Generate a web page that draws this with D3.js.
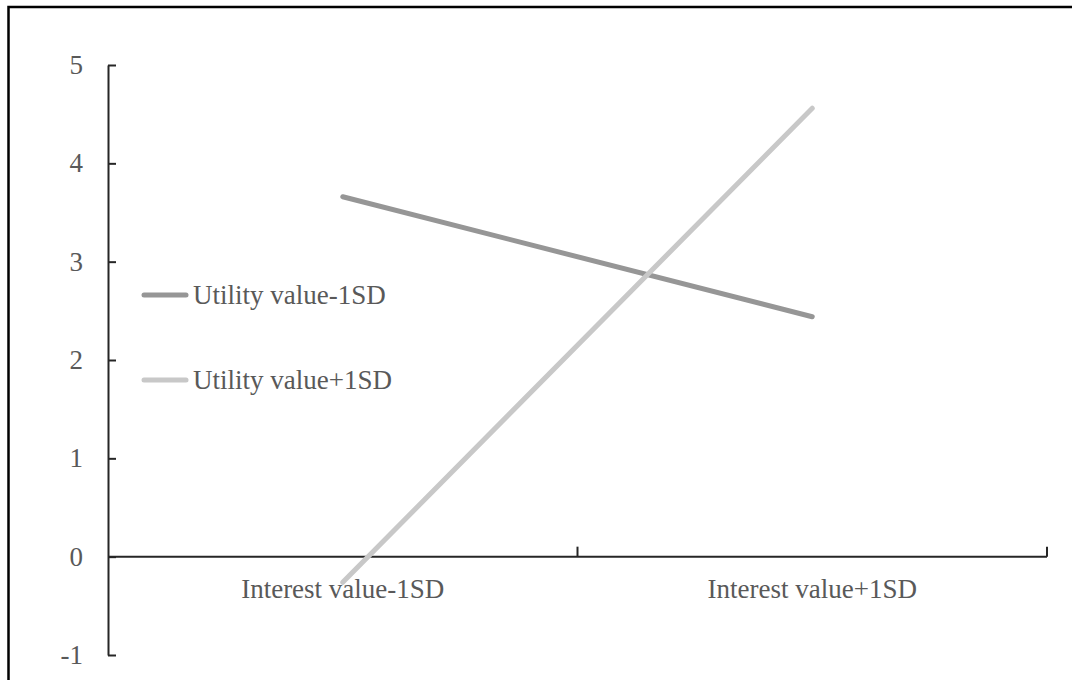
<!DOCTYPE html>
<html>
<head>
<meta charset="utf-8">
<script src="https://cdn.jsdelivr.net/npm/d3@7"></script>
<style>
  html, body { margin: 0; padding: 0; background: #fff; }
  svg { display: block; }
  text { font-family: "Liberation Serif", "Times New Roman", serif; fill: #595959; }
</style>
</head>
<body>
<figure id="chart" style="margin:0"></figure>
<script>
const categories = ["Interest value-1SD", "Interest value+1SD"];
const seriesNames = ["Utility value-1SD", "Utility value+1SD"];
const lowUtility = [3.66, 2.44];
const highUtility = [-0.26, 4.56];
const yTicks = [-1, 0, 1, 2, 3, 4, 5];
const seriesColors = ["#969696", "#c8c8c8"];

const width = 1072, height = 680;

const svg = d3.select("figure#chart")
  .append("svg")
  .attr("width", width)
  .attr("height", height);

// outer frame (right and bottom edges fall outside the picture)
svg.append("rect")
  .attr("x", 8.5).attr("y", 7)
  .attr("width", 1200).attr("height", 800)
  .attr("fill", "none")
  .attr("stroke", "#000")
  .attr("stroke-width", 2.5);

const x = d3.scaleBand().domain(categories).range([108, 1047]).padding(0);
const y = d3.scaleLinear().domain([-1, 5]).range([655, 65]);

// y axis, ticks pointing inward
const yAxis = svg.append("g")
  .attr("transform", "translate(" + x.range()[0] + ",0)")
  .call(d3.axisRight(y).tickValues(yTicks).tickSize(8).tickSizeOuter(0).tickFormat(d => String(d)));
yAxis.select(".domain").attr("stroke", "#262626").attr("stroke-width", 2);
yAxis.selectAll(".tick line").attr("stroke", "#262626").attr("stroke-width", 2);
yAxis.selectAll(".tick text")
  .attr("x", -25)
  .attr("text-anchor", "end")
  .attr("dy", "0.32em")
  .style("font-size", "27px")
  .style("font-family", "'Liberation Serif', serif")
  .attr("fill", "#595959");

// x axis at zero, ticks on band boundaries pointing up
const xAxis = svg.append("g")
  .attr("transform", "translate(0," + y(0) + ")");
xAxis.append("line")
  .attr("x1", x.range()[0]).attr("x2", x.range()[1])
  .attr("stroke", "#262626").attr("stroke-width", 2);
const bounds = categories.map(c => x(c)).concat([x.range()[1]]);
xAxis.selectAll("line.tick")
  .data(bounds.slice(1))
  .enter()
  .append("line")
  .attr("class", "tick")
  .attr("x1", d => d).attr("x2", d => d)
  .attr("y1", 0).attr("y2", -10)
  .attr("stroke", "#262626").attr("stroke-width", 2);
xAxis.selectAll("text")
  .data(categories)
  .enter()
  .append("text")
  .attr("x", d => x(d) + x.bandwidth() / 2)
  .attr("y", 41)
  .attr("text-anchor", "middle")
  .style("font-size", "27px")
  .text(d => d);

// lines
const line = d3.line()
  .x((d, i) => x(categories[i]) + x.bandwidth() / 2)
  .y(d => y(d));

[lowUtility, highUtility].forEach((vals, i) => {
  svg.append("path")
    .datum(vals)
    .attr("d", line)
    .attr("fill", "none")
    .attr("stroke", seriesColors[i])
    .attr("stroke-width", 5)
    .attr("stroke-linecap", "round");
});

// legend
const legend = svg.append("g");
const legendY = [295, 380];
seriesNames.forEach((name, i) => {
  legend.append("line")
    .attr("x1", 144).attr("x2", 186)
    .attr("y1", legendY[i]).attr("y2", legendY[i])
    .attr("stroke", seriesColors[i])
    .attr("stroke-width", 5)
    .attr("stroke-linecap", "round");
  legend.append("text")
    .attr("x", 193)
    .attr("y", legendY[i])
    .attr("dy", "0.32em")
    .style("font-size", "27px")
    .text(name);
});
</script>
</body>
</html>
